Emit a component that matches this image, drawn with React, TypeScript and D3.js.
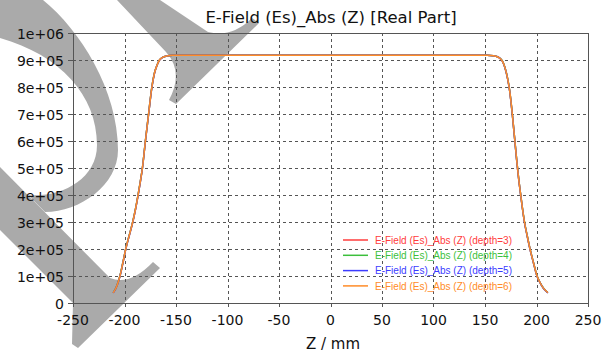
import React from "react";
import * as d3 from "d3";

const W = 608;
const H = 353;

const title = "E-Field (Es)_Abs (Z) [Real Part]";
const xLabel = "Z / mm";
const xTicks = [-250, -200, -150, -100, -50, 0, 50, 100, 150, 200, 250];
const yTicks = [0, 1e5, 2e5, 3e5, 4e5, 5e5, 6e5, 7e5, 8e5, 9e5, 1e6];
const yTickLabels = ["0", "1e+05", "2e+05", "3e+05", "4e+05", "5e+05", "6e+05", "7e+05", "8e+05", "9e+05", "1e+06"];

const zValues = [
  -211, -209, -207, -204.4, -201.5, -198.8, -195.4, -192, -189.2, -186.8, -184.6, -182.6, -179.7, -176.6,
  -173.4, -171, -168.5, -166, -163, -159, -153, -150, -100, -50, 0, 50, 100, 150, 152, 158, 162, 165, 167,
  169.5, 172, 174, 176.5, 179, 181, 182.7, 184.5, 186.3, 188.3, 190.9, 193.7, 197, 200.5, 203.5, 206.5, 209, 211,
];

const depth3 = [
  38000, 50000, 68000, 100000, 150000, 200000, 250000, 300000, 350000, 400000, 450000, 500000, 600000, 700000,
  800000, 850000, 880000, 900000, 910000, 915000, 918000, 918000, 918000, 918000, 918000, 918000, 918000, 918000,
  918000, 916000, 912000, 905000, 895000, 870000, 830000, 785000, 700000, 600000, 520000, 460000, 405000, 352000,
  300000, 250000, 200000, 150000, 100000, 75000, 56000, 45000, 38000,
];
const depth4 = [
  38500, 50500, 68500, 101000, 151000, 201000, 251000, 301000, 351000, 401000, 451000, 501000, 601000, 701000,
  801000, 851000, 880500, 900500, 910000, 915000, 918000, 918000, 918000, 918000, 918000, 918000, 918000, 918000,
  918000, 916000, 912000, 905000, 895500, 870500, 831000, 786000, 701000, 601000, 521000, 461000, 406000, 353000,
  301000, 251000, 201000, 151000, 101000, 75500, 56500, 45500, 38500,
];
const depth5 = [
  37500, 49500, 67500, 99000, 149000, 199000, 249000, 299000, 349000, 399000, 449000, 499000, 599000, 699000,
  799000, 849000, 879500, 899500, 910000, 915000, 918000, 918000, 918000, 918000, 918000, 918000, 918000, 918000,
  918000, 916000, 912000, 905000, 894500, 869500, 829000, 784000, 699000, 599000, 519000, 459000, 404000, 351000,
  299000, 249000, 199000, 149000, 99000, 74500, 55500, 44500, 37500,
];
const depth6 = [
  38000, 50000, 68000, 100000, 150000, 200000, 250000, 300000, 350000, 400000, 450000, 500000, 600000, 700000,
  800000, 850000, 880000, 900000, 910000, 915000, 918000, 918000, 918000, 918000, 918000, 918000, 918000, 918000,
  918000, 916000, 912000, 905000, 895000, 870000, 830000, 785000, 700000, 600000, 520000, 460000, 405000, 352000,
  300000, 250000, 200000, 150000, 100000, 75000, 56000, 45000, 38000,
];

const seriesNames = [
  "E-Field (Es)_Abs (Z) (depth=3)",
  "E-Field (Es)_Abs (Z) (depth=4)",
  "E-Field (Es)_Abs (Z) (depth=5)",
  "E-Field (Es)_Abs (Z) (depth=6)",
];
const seriesValues = [depth3, depth4, depth5, depth6];
const seriesColors = ["#ff3c3c", "#3cbf3c", "#3c3cff", "#ff8c28"];

const FONT = "'DejaVu Sans', Verdana, sans-serif";
const LEGEND_FONT = "'Liberation Sans', Arial, sans-serif";

export default function App() {
  const x = d3.scaleLinear().domain([-250, 250]).range([73, 588]);
  const y = d3.scaleLinear().domain([0, 1e6]).range([303, 33]);
  const [x0, x1] = x.range();
  const [yb, yt] = y.range();

  const line = d3
    .line<[number, number]>()
    .x((d) => x(d[0]))
    .y((d) => y(d[1]))
    .curve(d3.curveMonotoneX);

  const wm = "#aaaaaa";

  return (
    <svg
      width={W}
      height={H}
      viewBox={`0 0 ${W} ${H}`}
      style={{ position: "absolute", left: 0, top: 0, background: "#fff" }}
    >
      <rect x={0} y={0} width={W} height={H} fill="#fff" />
      {/* watermark */}
      <g fill={wm}>
        <path d="M0,0 L43,0 C80,30 118,90 118,150 C118,185 80,212 45,212 L28,195 C60,198 97,180 97,145 C97,95 60,55 0,38 Z" />
        <path d="M0,167 L110,278 Q130,286 153,262 L160,268 L78,348 L72,344 L73,303 L0,230 Z" />
        <path d="M117,0 L160,0 L208,32 Q232,38 252,18 L259,23 L176,104 L169,100 Q184,72 166,52 Z" />
      </g>
      {/* grid */}
      <g stroke="#555" strokeWidth={1} strokeDasharray="3,3" fill="none">
        {xTicks.slice(1, -1).map((t) => (
          <line key={"gx" + t} x1={Math.round(x(t)) + 0.5} x2={Math.round(x(t)) + 0.5} y1={yt} y2={yb} />
        ))}
        {yTicks.slice(1, -1).map((t) => (
          <line key={"gy" + t} x1={x0} x2={x1} y1={Math.round(y(t)) + 0.5} y2={Math.round(y(t)) + 0.5} />
        ))}
      </g>
      {/* frame */}
      <rect x={x0 + 0.5} y={yt + 0.5} width={x1 - x0} height={yb - yt} fill="none" stroke="#555" strokeWidth={1} />
      {/* ticks */}
      <g stroke="#555" strokeWidth={1}>
        {yTicks.map((t) => (
          <line key={"ty" + t} x1={x0 - 5} x2={x0} y1={Math.round(y(t)) + 0.5} y2={Math.round(y(t)) + 0.5} />
        ))}
        {xTicks.map((t) => (
          <line key={"tx" + t} x1={Math.round(x(t)) + 0.5} x2={Math.round(x(t)) + 0.5} y1={yb} y2={yb + 4} />
        ))}
      </g>
      {/* tick labels */}
      <g fontFamily={FONT} fontSize={14} fill="#111">
        {yTicks.map((t, i) => (
          <text key={"ly" + t} x={x0 - 9} y={y(t) + 5.5} textAnchor="end">
            {yTickLabels[i]}
          </text>
        ))}
        {xTicks.map((t) => (
          <text key={"lx" + t} x={x(t)} y={325} textAnchor="middle">
            {String(t)}
          </text>
        ))}
      </g>
      {/* series */}
      <g fill="none" strokeWidth={1.5}>
        {seriesValues.map((vals, i) => (
          <path
            key={"s" + i}
            d={line(zValues.map((z, j) => [z, vals[j]] as [number, number])) || ""}
            stroke={seriesColors[i]}
          />
        ))}
      </g>
      {/* legend */}
      <g fontFamily={LEGEND_FONT} fontSize={10}>
        {seriesNames.map((n, i) => {
          const ly = 240 + i * 15.3;
          return (
            <g key={"lg" + i}>
              <line x1={343} x2={368} y1={ly} y2={ly} stroke={seriesColors[i]} strokeWidth={1.5} />
              <text x={375} y={ly + 3.8} fill={seriesColors[i]}>
                {n}
              </text>
            </g>
          );
        })}
      </g>
      {/* title & axis label */}
      <text x={331} y={23} textAnchor="middle" fontFamily={FONT} fontSize={16.5} fill="#111">
        {title}
      </text>
      <text x={333} y={349} textAnchor="middle" fontFamily={FONT} fontSize={15} fill="#111">
        {xLabel}
      </text>
    </svg>
  );
}
